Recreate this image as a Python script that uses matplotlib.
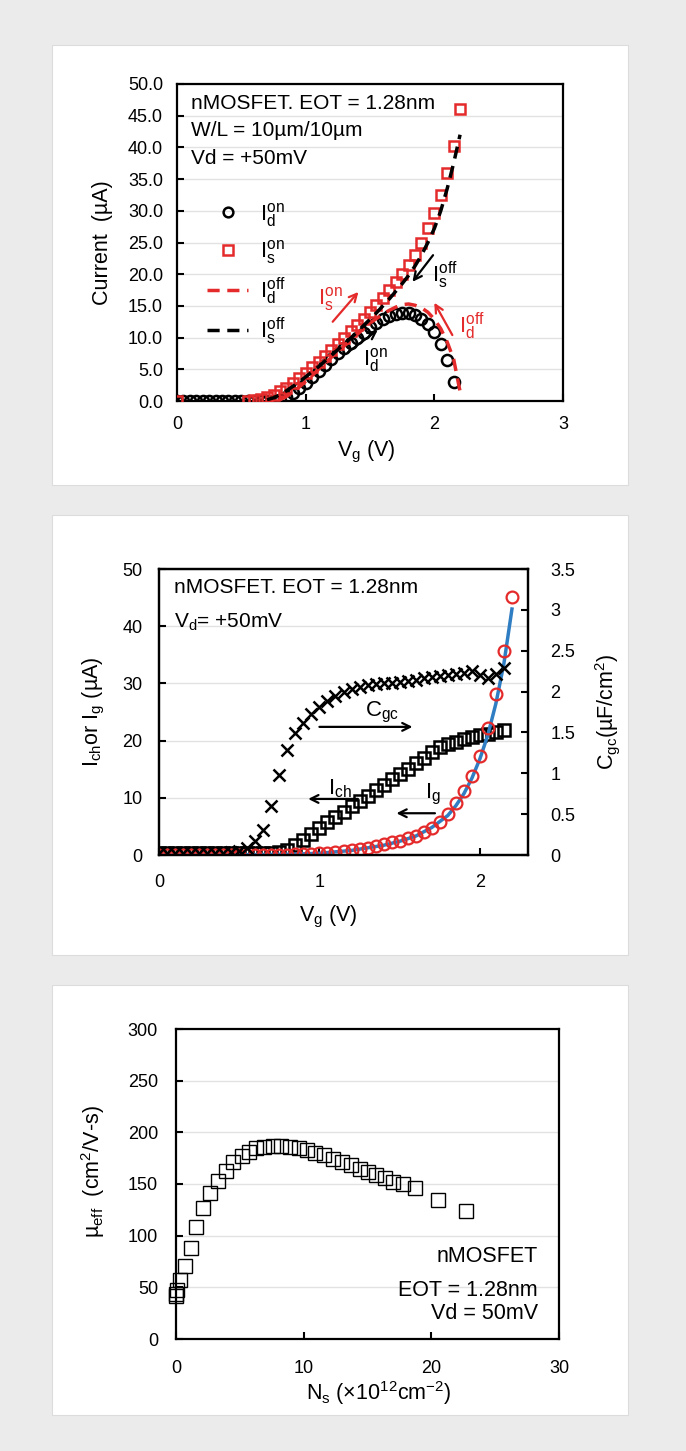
import matplotlib
matplotlib.use('Agg')
import matplotlib.pyplot as plt
from matplotlib.patches import Rectangle
from matplotlib.ticker import FormatStrFormatter

plt.rcParams['font.family'] = ['Liberation Sans', 'DejaVu Sans']
plt.rcParams['mathtext.fontset'] = 'custom'
plt.rcParams['mathtext.rm'] = 'Liberation Sans'

RED = '#e42a2a'
BLUE = '#2f7dc2'

# ---- panel 1 : on/off currents vs Vg ----
vg_id_on = [0.00, 0.05, 0.10, 0.15, 0.20, 0.25, 0.30, 0.35, 0.40, 0.45, 0.50,
            0.55, 0.60, 0.65, 0.70, 0.75, 0.80, 0.85, 0.90, 0.95, 1.00, 1.05,
            1.10, 1.15, 1.20, 1.25, 1.30, 1.35, 1.40, 1.45, 1.50, 1.55, 1.60,
            1.65, 1.70, 1.75, 1.80, 1.85, 1.90, 1.95, 2.00, 2.05, 2.10, 2.15]
id_on = [0, 0, 0, 0, 0, 0, 0, 0, 0, 0, 0,
         0, 0, 0, 0, 0.05, 0.2, 0.6, 1.3, 2.0, 2.9, 3.8,
         4.7, 5.7, 6.6, 7.5, 8.4, 9.2, 10.0, 10.8, 11.6, 12.3, 12.9,
         13.4, 13.8, 13.9, 13.9, 13.6, 13.0, 12.1, 10.9, 9.0, 6.5, 3.0]

vg_is_on = [0.00, 0.55, 0.60, 0.65, 0.70, 0.75, 0.80, 0.85, 0.90, 0.95, 1.00,
            1.05, 1.10, 1.15, 1.20, 1.25, 1.30, 1.35, 1.40, 1.45, 1.50, 1.55,
            1.60, 1.65, 1.70, 1.75, 1.80, 1.85, 1.90, 1.95, 2.00, 2.05, 2.10,
            2.15, 2.20]
is_on = [0, 0, 0.1, 0.3, 0.6, 1.0, 1.5, 2.1, 2.8, 3.6, 4.4,
         5.3, 6.2, 7.1, 8.0, 9.0, 10.0, 11.0, 12.0, 13.0, 14.0, 15.1,
         16.3, 17.5, 18.8, 20.1, 21.4, 23.0, 25.0, 27.3, 29.6, 32.5, 36.0,
         40.2, 46.0]

vg_id_off = [0.80, 0.85, 0.90, 0.95, 1.00, 1.05, 1.10, 1.15, 1.20, 1.25, 1.30,
             1.35, 1.40, 1.45, 1.50, 1.55, 1.60, 1.65, 1.70, 1.75, 1.80, 1.85,
             1.90, 1.95, 2.00, 2.05, 2.10, 2.15, 2.20]
id_off = [0.2, 0.7, 1.4, 2.2, 3.1, 4.0, 5.0, 5.9, 6.9, 7.8, 8.7,
          9.6, 10.5, 11.4, 12.3, 13.0, 13.7, 14.3, 14.8, 15.2, 15.3, 15.1,
          14.7, 14.0, 12.9, 11.4, 9.3, 6.6, 1.5]

vg_is_off = [0.70, 0.75, 0.80, 0.85, 0.90, 0.95, 1.00, 1.05, 1.10, 1.15, 1.20,
             1.25, 1.30, 1.35, 1.40, 1.45, 1.50, 1.55, 1.60, 1.65, 1.70, 1.75,
             1.80, 1.85, 1.90, 1.95, 2.00, 2.05, 2.10, 2.15, 2.20]
is_off = [0.2, 0.5, 1.0, 1.6, 2.3, 3.0, 3.8, 4.6, 5.4, 6.3, 7.2,
          8.1, 9.0, 9.9, 10.9, 11.9, 12.9, 13.9, 15.0, 16.1, 17.3, 18.5,
          19.8, 21.3, 23.0, 25.0, 27.2, 30.0, 33.5, 37.5, 42.0]

# ---- panel 2 : Ich, Ig, Cgc vs Vg ----
vg_m = [0.00, 0.05, 0.10, 0.15, 0.20, 0.25, 0.30, 0.35, 0.40, 0.45, 0.50,
        0.55, 0.60, 0.65, 0.70, 0.75, 0.80, 0.85, 0.90, 0.95, 1.00, 1.05,
        1.10, 1.15, 1.20, 1.25, 1.30, 1.35, 1.40, 1.45, 1.50, 1.55, 1.60,
        1.65, 1.70, 1.75, 1.80, 1.85, 1.90, 1.95, 2.00, 2.05, 2.10, 2.15]
cgc = [0.03, 0.03, 0.03, 0.03, 0.03, 0.03, 0.03, 0.03, 0.03, 0.04, 0.05,
       0.09, 0.17, 0.31, 0.60, 0.98, 1.29, 1.49, 1.62, 1.72, 1.81, 1.89,
       1.95, 2.00, 2.03, 2.06, 2.08, 2.09, 2.10, 2.11, 2.12, 2.13, 2.14,
       2.16, 2.18, 2.19, 2.20, 2.21, 2.23, 2.25, 2.20, 2.17, 2.22, 2.29]
ich = [0.3, 0.3, 0.3, 0.3, 0.3, 0.3, 0.3, 0.3, 0.3, 0.3, 0.3,
       0.3, 0.3, 0.3, 0.3, 0.5, 0.9, 1.7, 2.6, 3.7, 4.7, 5.7,
       6.7, 7.6, 8.6, 9.5, 10.4, 11.3, 12.2, 13.2, 14.1, 15.0, 16.0,
       17.0, 18.0, 18.8, 19.4, 19.8, 20.2, 20.6, 20.9, 21.2, 21.5, 21.8]
vg_ig = vg_m + [2.20]
ig = [0.05, 0.05, 0.05, 0.05, 0.05, 0.05, 0.05, 0.05, 0.05, 0.05, 0.05,
      0.05, 0.05, 0.05, 0.05, 0.05, 0.06, 0.1, 0.15, 0.2, 0.3, 0.4,
      0.5, 0.7, 0.9, 1.1, 1.3, 1.6, 1.9, 2.2, 2.5, 2.9, 3.3,
      4.0, 4.7, 5.7, 7.2, 9.1, 11.2, 13.8, 17.3, 22.2, 28.1, 35.7, 45.1]
fit_v = [0.0, 0.5, 0.8, 1.0, 1.2, 1.4, 1.5, 1.6, 1.7, 1.8, 1.85, 1.9,
         1.95, 2.0, 2.05, 2.1, 2.15, 2.2]
fit_i = [0.0, 0.03, 0.12, 0.3, 0.8, 1.7, 2.4, 3.3, 4.8, 6.9, 8.6, 10.7,
         13.4, 16.8, 21.0, 26.5, 33.5, 43.0]

# ---- panel 3 : mobility vs Ns ----
ns = [0.0, 0.0, 0.05, 0.3, 0.7, 1.2, 1.6, 2.1, 2.7, 3.3, 3.9, 4.5, 5.2, 5.7,
      6.3, 6.9, 7.6, 8.2, 8.9, 9.6, 10.3, 10.9, 11.6, 12.3, 13.0, 13.7, 14.4,
      15.0, 15.7, 16.4, 17.0, 17.8, 18.7, 20.5, 22.7]
mu = [42, 44, 47, 57, 71, 88, 108, 127, 141, 153, 163, 171, 177, 181,
      185, 186, 187, 187, 186, 185, 183, 180, 178, 174, 171, 168, 165,
      162, 159, 156, 152, 150, 146, 135, 124]


def style_axes(ax, pad_x, pad_y):
    for s in ax.spines.values():
        s.set_linewidth(1.6)
        s.set_color('black')
    ax.tick_params(direction='in', length=5, width=1.5, labelsize=13)
    ax.tick_params(axis='x', pad=pad_x)
    ax.tick_params(axis='y', pad=pad_y)
    ax.grid(axis='y', color='#e2e2e2', lw=1)
    ax.set_axisbelow(True)


fig = plt.figure(figsize=(6.86, 14.51), dpi=100, facecolor='#ebebeb')
W, H = 686.0, 1451.0
for top, bot in [(45, 485), (515, 955), (985, 1415)]:
    fig.patches.append(Rectangle((52 / W, 1 - bot / H), 576 / W, (bot - top) / H,
                                 transform=fig.transFigure, facecolor='white',
                                 edgecolor='#dcdcdc', lw=0.8, zorder=-1))

# panel 1
ax1 = fig.add_axes([177 / W, 1 - 401 / H, 386 / W, 317 / H])
style_axes(ax1, 11, 10)
ax1.plot(vg_id_on, id_on, 'o', mfc='none', mec='black', ms=8, mew=1.8,
         label=r'$\mathregular{I_d^{on}}$', zorder=3)
ax1.plot(vg_is_on, is_on, 's', mfc='none', mec=RED, ms=7.5, mew=1.8,
         label=r'$\mathregular{I_s^{on}}$', zorder=3)
ax1.plot(vg_id_off, id_off, '--', color=RED, lw=2.5, dashes=(3.5, 2.2),
         label=r'$\mathregular{I_d^{off}}$', zorder=4)
ax1.plot(vg_is_off, is_off, '--', color='black', lw=2.5, dashes=(3.5, 2.2),
         label=r'$\mathregular{I_s^{off}}$', zorder=4)
ax1.set_xlim(0, 3)
ax1.set_ylim(0, 50)
ax1.set_xticks([0, 1, 2, 3])
ax1.set_yticks([0, 5, 10, 15, 20, 25, 30, 35, 40, 45, 50])
ax1.yaxis.set_major_formatter(FormatStrFormatter('%.1f'))
ax1.set_ylabel('Current  (µA)', fontsize=15.5)
ax1.set_xlabel(r'$\mathregular{V_g}$ (V)', fontsize=15.5)
ax1.yaxis.set_label_coords(-0.165, 0.5)
ax1.xaxis.set_label_coords(0.49, -0.12)
leg = ax1.legend(loc='upper left', bbox_to_anchor=(0.078, 0.632), frameon=False,
                 fontsize=16, borderpad=0, borderaxespad=0, handlelength=1.85,
                 handletextpad=0.55, labelspacing=0.42)
leg.legend_handles[0].set_markersize(7)
for i, s in enumerate(['nMOSFET. EOT = 1.28nm', 'W/L = 10µm/10µm', 'Vd = +50mV']):
    ax1.text(0.036, 0.94 - 0.088 * i, s, transform=ax1.transAxes,
             fontsize=15, va='center', ha='left')
arrow_k = dict(arrowstyle='->', lw=1.6, shrinkA=0, shrinkB=0, mutation_scale=14)
ax1.annotate('', xy=(1.41, 17.2), xytext=(1.21, 12.5),
             arrowprops=dict(color=RED, **arrow_k))
ax1.text(1.19, 16.1, r'$\mathregular{I_s^{on}}$', color=RED, fontsize=16,
         ha='center', va='center')
ax1.annotate('', xy=(1.56, 11.2), xytext=(1.33, 7.7),
             arrowprops=dict(color='black', **arrow_k))
ax1.text(1.54, 6.4, r'$\mathregular{I_d^{on}}$', color='black', fontsize=16,
         ha='center', va='center')
ax1.annotate('', xy=(1.83, 18.8), xytext=(1.99, 23.0),
             arrowprops=dict(color='black', **arrow_k))
ax1.text(2.08, 19.8, r'$\mathregular{I_s^{off}}$', color='black', fontsize=16,
         ha='center', va='center')
ax1.annotate('', xy=(2.0, 15.5), xytext=(2.14, 10.4),
             arrowprops=dict(color=RED, **arrow_k))
ax1.text(2.29, 11.8, r'$\mathregular{I_d^{off}}$', color=RED, fontsize=16,
         ha='center', va='center')

# panel 2
ax2 = fig.add_axes([159 / W, 1 - 855 / H, 369 / W, 286 / H])
style_axes(ax2, 14, 12)
ax2.plot(fit_v, fit_i, '-', color=BLUE, lw=2.5, zorder=3)
ax2.plot(vg_ig, ig, 'o', mfc='none', mec=RED, ms=8.5, mew=1.6, zorder=4)
ax2.plot(vg_m, ich, 's', mfc='none', mec='black', ms=8, mew=1.8, zorder=2)
ax2.set_xlim(0, 2.3)
ax2.set_ylim(0, 50)
ax2.set_xticks([0, 1, 2])
ax2.set_yticks([0, 10, 20, 30, 40, 50])
ax2.set_ylabel(r'$\mathregular{I_{ch}}$or $\mathregular{I_g}$ (µA)', fontsize=15.5)
ax2.set_xlabel(r'$\mathregular{V_g}$ (V)', fontsize=15.5)
ax2.yaxis.set_label_coords(-0.14, 0.5)
ax2.xaxis.set_label_coords(0.46, -0.17)
ax2r = ax2.twinx()
ax2r.plot(vg_m, cgc, 'x', color='black', ms=8, mew=1.8)
ax2r.set_ylim(0, 3.5)
ax2r.set_yticks([0, 0.5, 1, 1.5, 2, 2.5, 3, 3.5])
ax2r.set_yticklabels(['0', '0.5', '1', '1.5', '2', '2.5', '3', '3.5'])
for s in ax2r.spines.values():
    s.set_linewidth(1.6)
ax2r.tick_params(direction='in', length=5, width=1.5, labelsize=13, pad=16)
ax2r.set_ylabel(r'$\mathregular{C_{gc}}$(µF/cm$\mathregular{^2}$)', fontsize=15.5)
ax2r.yaxis.set_label_coords(1.175, 0.5)
ax2.text(0.041, 0.934, 'nMOSFET. EOT = 1.28nm', transform=ax2.transAxes,
         fontsize=15, va='center')
ax2.text(0.041, 0.815, r'$\mathregular{V_d}$= +50mV', transform=ax2.transAxes,
         fontsize=15, va='center')
ax2.annotate('', xy=(1.58, 22.4), xytext=(1.0, 22.4),
             arrowprops=dict(color='black', **arrow_k))
ax2.text(1.39, 25.0, r'$\mathregular{C_{gc}}$', fontsize=16, ha='center', va='center')
ax2.annotate('', xy=(0.93, 9.8), xytext=(1.24, 9.8),
             arrowprops=dict(color='black', **arrow_k))
ax2.text(1.13, 11.6, r'$\mathregular{I_{ch}}$', fontsize=16, ha='center', va='center')
ax2.annotate('', xy=(1.48, 7.3), xytext=(1.72, 7.3),
             arrowprops=dict(color='black', **arrow_k))
ax2.text(1.71, 10.6, r'$\mathregular{I_g}$', fontsize=16, ha='center', va='center')

# panel 3
ax3 = fig.add_axes([176 / W, 1 - 1339 / H, 383 / W, 310 / H])
style_axes(ax3, 15, 13)
ax3.plot(ns, mu, 's', mfc='none', mec='black', ms=10.5, mew=1.0, clip_on=False)
ax3.set_xlim(0, 30)
ax3.set_ylim(0, 300)
ax3.set_xticks([0, 10, 20, 30])
ax3.set_yticks([0, 50, 100, 150, 200, 250, 300])
ax3.set_ylabel(r'$\mathregular{µ_{eff}}$  (cm$\mathregular{^2}$/V-s)', fontsize=15.5)
ax3.set_xlabel(r'$\mathregular{N_s}$ (×10$\mathregular{^{12}}$cm$\mathregular{^{-2}}$)',
               fontsize=15.5)
ax3.yaxis.set_label_coords(-0.18, 0.54)
ax3.xaxis.set_label_coords(0.53, -0.13)
for i, s in enumerate(['nMOSFET', 'EOT = 1.28nm', 'Vd = 50mV']):
    ax3.text(0.945, [0.265, 0.158, 0.081][i], s, transform=ax3.transAxes,
             fontsize=15.5, va='center', ha='right')

fig.savefig('out.png', dpi=100, facecolor=fig.get_facecolor())
